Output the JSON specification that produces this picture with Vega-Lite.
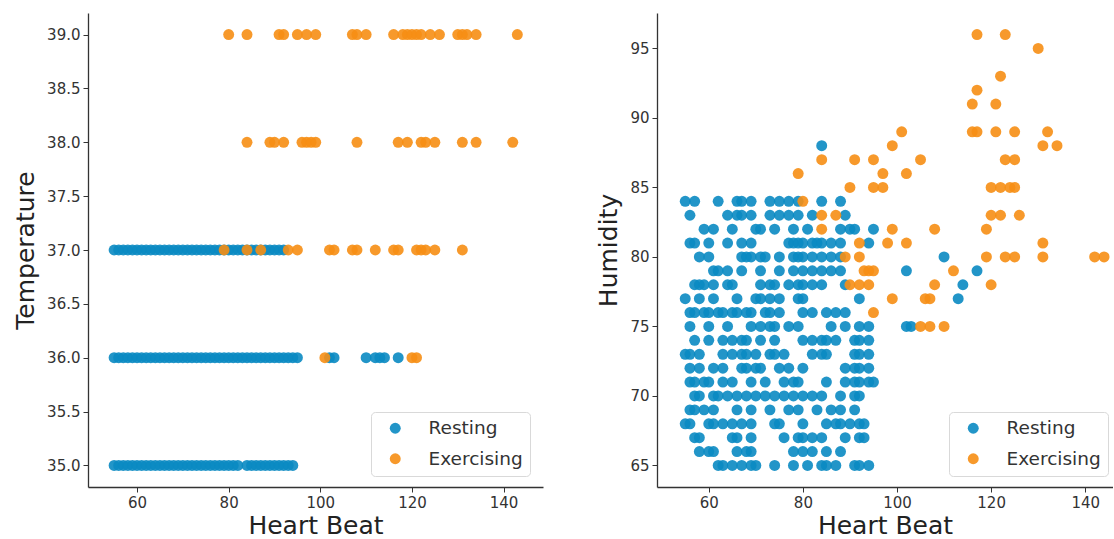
{
"$schema": "https://vega.github.io/schema/vega-lite/v6.json",
"padding": {"left": 13, "top": 13, "right": 0, "bottom": 0},
"background": "white",
"spacing": 53,
"config": {
 "view": {"stroke": null},
 "font": "DejaVu Sans",
 "axis": {"grid": false, "domainColor": "#333", "domainWidth": 1.3, "tickColor": "#333", "tickSize": 5, "tickWidth": 1, "labelFontSize": 15, "labelColor": "#333", "labelFont": "DejaVu Sans", "titleFont": "DejaVu Sans", "titleFontSize": 25, "titleFontWeight": "normal", "titleColor": "#222", "labelPadding": 3},
 "legend": {"labelFontSize": 18.5, "labelColor": "#333", "labelFont": "DejaVu Sans", "symbolSize": 120, "symbolOpacity": 0.9, "symbolType": "circle", "symbolStrokeWidth": 0, "padding": 7, "rowPadding": 11.5, "symbolOffset": 8, "labelOffset": 24, "strokeColor": "#d9d9d9", "fillColor": "white", "cornerRadius": 4}
},
"datasets": {
"temp": [
{"h":55,"t":35,"s":"Resting"},{"h":56,"t":35,"s":"Resting"},{"h":57,"t":35,"s":"Resting"},{"h":58,"t":35,"s":"Resting"},{"h":59,"t":35,"s":"Resting"},{"h":60,"t":35,"s":"Resting"},{"h":61,"t":35,"s":"Resting"},{"h":62,"t":35,"s":"Resting"},{"h":63,"t":35,"s":"Resting"},{"h":64,"t":35,"s":"Resting"},{"h":65,"t":35,"s":"Resting"},{"h":66,"t":35,"s":"Resting"},{"h":67,"t":35,"s":"Resting"},{"h":68,"t":35,"s":"Resting"},{"h":69,"t":35,"s":"Resting"},{"h":70,"t":35,"s":"Resting"},{"h":71,"t":35,"s":"Resting"},{"h":72,"t":35,"s":"Resting"},{"h":73,"t":35,"s":"Resting"},{"h":74,"t":35,"s":"Resting"},{"h":75,"t":35,"s":"Resting"},{"h":76,"t":35,"s":"Resting"},{"h":77,"t":35,"s":"Resting"},{"h":78,"t":35,"s":"Resting"},{"h":79,"t":35,"s":"Resting"},{"h":80,"t":35,"s":"Resting"},{"h":81,"t":35,"s":"Resting"},{"h":82,"t":35,"s":"Resting"},{"h":84,"t":35,"s":"Resting"},{"h":85,"t":35,"s":"Resting"},{"h":86,"t":35,"s":"Resting"},{"h":87,"t":35,"s":"Resting"},{"h":88,"t":35,"s":"Resting"},{"h":89,"t":35,"s":"Resting"},{"h":90,"t":35,"s":"Resting"},{"h":91,"t":35,"s":"Resting"},{"h":92,"t":35,"s":"Resting"},{"h":93,"t":35,"s":"Resting"},{"h":94,"t":35,"s":"Resting"},
{"h":55,"t":36,"s":"Resting"},{"h":56,"t":36,"s":"Resting"},{"h":57,"t":36,"s":"Resting"},{"h":58,"t":36,"s":"Resting"},{"h":59,"t":36,"s":"Resting"},{"h":60,"t":36,"s":"Resting"},{"h":61,"t":36,"s":"Resting"},{"h":62,"t":36,"s":"Resting"},{"h":63,"t":36,"s":"Resting"},{"h":64,"t":36,"s":"Resting"},{"h":65,"t":36,"s":"Resting"},{"h":66,"t":36,"s":"Resting"},{"h":67,"t":36,"s":"Resting"},{"h":68,"t":36,"s":"Resting"},{"h":69,"t":36,"s":"Resting"},{"h":70,"t":36,"s":"Resting"},{"h":71,"t":36,"s":"Resting"},{"h":72,"t":36,"s":"Resting"},{"h":73,"t":36,"s":"Resting"},{"h":74,"t":36,"s":"Resting"},{"h":75,"t":36,"s":"Resting"},{"h":76,"t":36,"s":"Resting"},{"h":77,"t":36,"s":"Resting"},{"h":78,"t":36,"s":"Resting"},{"h":79,"t":36,"s":"Resting"},{"h":80,"t":36,"s":"Resting"},{"h":81,"t":36,"s":"Resting"},{"h":82,"t":36,"s":"Resting"},{"h":83,"t":36,"s":"Resting"},{"h":84,"t":36,"s":"Resting"},{"h":85,"t":36,"s":"Resting"},{"h":86,"t":36,"s":"Resting"},{"h":87,"t":36,"s":"Resting"},{"h":88,"t":36,"s":"Resting"},{"h":89,"t":36,"s":"Resting"},{"h":90,"t":36,"s":"Resting"},{"h":91,"t":36,"s":"Resting"},{"h":92,"t":36,"s":"Resting"},{"h":93,"t":36,"s":"Resting"},{"h":94,"t":36,"s":"Resting"},{"h":95,"t":36,"s":"Resting"},{"h":102,"t":36,"s":"Resting"},{"h":103,"t":36,"s":"Resting"},{"h":110,"t":36,"s":"Resting"},{"h":112,"t":36,"s":"Resting"},{"h":113,"t":36,"s":"Resting"},{"h":114,"t":36,"s":"Resting"},{"h":117,"t":36,"s":"Resting"},
{"h":55,"t":37,"s":"Resting"},{"h":56,"t":37,"s":"Resting"},{"h":57,"t":37,"s":"Resting"},{"h":58,"t":37,"s":"Resting"},{"h":59,"t":37,"s":"Resting"},{"h":60,"t":37,"s":"Resting"},{"h":61,"t":37,"s":"Resting"},{"h":62,"t":37,"s":"Resting"},{"h":63,"t":37,"s":"Resting"},{"h":64,"t":37,"s":"Resting"},{"h":65,"t":37,"s":"Resting"},{"h":66,"t":37,"s":"Resting"},{"h":67,"t":37,"s":"Resting"},{"h":68,"t":37,"s":"Resting"},{"h":69,"t":37,"s":"Resting"},{"h":70,"t":37,"s":"Resting"},{"h":71,"t":37,"s":"Resting"},{"h":72,"t":37,"s":"Resting"},{"h":73,"t":37,"s":"Resting"},{"h":74,"t":37,"s":"Resting"},{"h":75,"t":37,"s":"Resting"},{"h":76,"t":37,"s":"Resting"},{"h":77,"t":37,"s":"Resting"},{"h":78,"t":37,"s":"Resting"},{"h":79,"t":37,"s":"Resting"},{"h":80,"t":37,"s":"Resting"},{"h":81,"t":37,"s":"Resting"},{"h":82,"t":37,"s":"Resting"},{"h":83,"t":37,"s":"Resting"},{"h":84,"t":37,"s":"Resting"},{"h":85,"t":37,"s":"Resting"},{"h":86,"t":37,"s":"Resting"},{"h":87,"t":37,"s":"Resting"},{"h":88,"t":37,"s":"Resting"},{"h":89,"t":37,"s":"Resting"},{"h":90,"t":37,"s":"Resting"},{"h":91,"t":37,"s":"Resting"},{"h":92,"t":37,"s":"Resting"},
{"h":101,"t":36,"s":"Exercising"},{"h":120,"t":36,"s":"Exercising"},{"h":121,"t":36,"s":"Exercising"},
{"h":79,"t":37,"s":"Exercising"},{"h":84,"t":37,"s":"Exercising"},{"h":87,"t":37,"s":"Exercising"},{"h":93,"t":37,"s":"Exercising"},{"h":95,"t":37,"s":"Exercising"},{"h":102,"t":37,"s":"Exercising"},{"h":103,"t":37,"s":"Exercising"},{"h":107,"t":37,"s":"Exercising"},{"h":108,"t":37,"s":"Exercising"},{"h":112,"t":37,"s":"Exercising"},{"h":116,"t":37,"s":"Exercising"},{"h":117,"t":37,"s":"Exercising"},{"h":121,"t":37,"s":"Exercising"},{"h":122,"t":37,"s":"Exercising"},{"h":123,"t":37,"s":"Exercising"},{"h":125,"t":37,"s":"Exercising"},{"h":131,"t":37,"s":"Exercising"},
{"h":84,"t":38,"s":"Exercising"},{"h":89,"t":38,"s":"Exercising"},{"h":90,"t":38,"s":"Exercising"},{"h":92,"t":38,"s":"Exercising"},{"h":96,"t":38,"s":"Exercising"},{"h":97,"t":38,"s":"Exercising"},{"h":98,"t":38,"s":"Exercising"},{"h":99,"t":38,"s":"Exercising"},{"h":108,"t":38,"s":"Exercising"},{"h":117,"t":38,"s":"Exercising"},{"h":119,"t":38,"s":"Exercising"},{"h":122,"t":38,"s":"Exercising"},{"h":123,"t":38,"s":"Exercising"},{"h":125,"t":38,"s":"Exercising"},{"h":131,"t":38,"s":"Exercising"},{"h":134,"t":38,"s":"Exercising"},{"h":142,"t":38,"s":"Exercising"},
{"h":80,"t":39,"s":"Exercising"},{"h":84,"t":39,"s":"Exercising"},{"h":91,"t":39,"s":"Exercising"},{"h":92,"t":39,"s":"Exercising"},{"h":95,"t":39,"s":"Exercising"},{"h":97,"t":39,"s":"Exercising"},{"h":99,"t":39,"s":"Exercising"},{"h":107,"t":39,"s":"Exercising"},{"h":108,"t":39,"s":"Exercising"},{"h":110,"t":39,"s":"Exercising"},{"h":116,"t":39,"s":"Exercising"},{"h":118,"t":39,"s":"Exercising"},{"h":119,"t":39,"s":"Exercising"},{"h":120,"t":39,"s":"Exercising"},{"h":121,"t":39,"s":"Exercising"},{"h":122,"t":39,"s":"Exercising"},{"h":124,"t":39,"s":"Exercising"},{"h":126,"t":39,"s":"Exercising"},{"h":130,"t":39,"s":"Exercising"},{"h":131,"t":39,"s":"Exercising"},{"h":132,"t":39,"s":"Exercising"},{"h":134,"t":39,"s":"Exercising"},{"h":143,"t":39,"s":"Exercising"}
],
"hum": [
{"h":55,"u":84,"s":"Resting"},{"h":57,"u":84,"s":"Resting"},{"h":62,"u":84,"s":"Resting"},{"h":66,"u":84,"s":"Resting"},{"h":67,"u":84,"s":"Resting"},{"h":69,"u":84,"s":"Resting"},{"h":73,"u":84,"s":"Resting"},{"h":75,"u":84,"s":"Resting"},{"h":77,"u":84,"s":"Resting"},{"h":79,"u":84,"s":"Resting"},{"h":84,"u":84,"s":"Resting"},{"h":88,"u":84,"s":"Resting"},
{"h":56,"u":83,"s":"Resting"},{"h":64,"u":83,"s":"Resting"},{"h":66,"u":83,"s":"Resting"},{"h":67,"u":83,"s":"Resting"},{"h":69,"u":83,"s":"Resting"},{"h":73,"u":83,"s":"Resting"},{"h":75,"u":83,"s":"Resting"},{"h":77,"u":83,"s":"Resting"},{"h":79,"u":83,"s":"Resting"},{"h":82,"u":83,"s":"Resting"},{"h":89,"u":83,"s":"Resting"},
{"h":59,"u":82,"s":"Resting"},{"h":61,"u":82,"s":"Resting"},{"h":65,"u":82,"s":"Resting"},{"h":70,"u":82,"s":"Resting"},{"h":71,"u":82,"s":"Resting"},{"h":74,"u":82,"s":"Resting"},{"h":78,"u":82,"s":"Resting"},{"h":81,"u":82,"s":"Resting"},{"h":88,"u":82,"s":"Resting"},{"h":90,"u":82,"s":"Resting"},{"h":91,"u":82,"s":"Resting"},{"h":95,"u":82,"s":"Resting"},
{"h":56,"u":81,"s":"Resting"},{"h":57,"u":81,"s":"Resting"},{"h":60,"u":81,"s":"Resting"},{"h":64,"u":81,"s":"Resting"},{"h":67,"u":81,"s":"Resting"},{"h":69,"u":81,"s":"Resting"},{"h":77,"u":81,"s":"Resting"},{"h":78,"u":81,"s":"Resting"},{"h":79,"u":81,"s":"Resting"},{"h":80,"u":81,"s":"Resting"},{"h":82,"u":81,"s":"Resting"},{"h":83,"u":81,"s":"Resting"},{"h":84,"u":81,"s":"Resting"},{"h":86,"u":81,"s":"Resting"},{"h":88,"u":81,"s":"Resting"},{"h":94,"u":81,"s":"Resting"},
{"h":58,"u":80,"s":"Resting"},{"h":60,"u":80,"s":"Resting"},{"h":67,"u":80,"s":"Resting"},{"h":68,"u":80,"s":"Resting"},{"h":69,"u":80,"s":"Resting"},{"h":71,"u":80,"s":"Resting"},{"h":72,"u":80,"s":"Resting"},{"h":75,"u":80,"s":"Resting"},{"h":78,"u":80,"s":"Resting"},{"h":79,"u":80,"s":"Resting"},{"h":80,"u":80,"s":"Resting"},{"h":82,"u":80,"s":"Resting"},{"h":84,"u":80,"s":"Resting"},{"h":86,"u":80,"s":"Resting"},{"h":88,"u":80,"s":"Resting"},{"h":110,"u":80,"s":"Resting"},
{"h":61,"u":79,"s":"Resting"},{"h":62,"u":79,"s":"Resting"},{"h":64,"u":79,"s":"Resting"},{"h":67,"u":79,"s":"Resting"},{"h":71,"u":79,"s":"Resting"},{"h":75,"u":79,"s":"Resting"},{"h":78,"u":79,"s":"Resting"},{"h":80,"u":79,"s":"Resting"},{"h":82,"u":79,"s":"Resting"},{"h":84,"u":79,"s":"Resting"},{"h":86,"u":79,"s":"Resting"},{"h":88,"u":79,"s":"Resting"},{"h":102,"u":79,"s":"Resting"},{"h":117,"u":79,"s":"Resting"},
{"h":57,"u":78,"s":"Resting"},{"h":58,"u":78,"s":"Resting"},{"h":59,"u":78,"s":"Resting"},{"h":61,"u":78,"s":"Resting"},{"h":64,"u":78,"s":"Resting"},{"h":65,"u":78,"s":"Resting"},{"h":71,"u":78,"s":"Resting"},{"h":73,"u":78,"s":"Resting"},{"h":74,"u":78,"s":"Resting"},{"h":77,"u":78,"s":"Resting"},{"h":79,"u":78,"s":"Resting"},{"h":80,"u":78,"s":"Resting"},{"h":82,"u":78,"s":"Resting"},{"h":84,"u":78,"s":"Resting"},{"h":89,"u":78,"s":"Resting"},{"h":114,"u":78,"s":"Resting"},
{"h":55,"u":77,"s":"Resting"},{"h":58,"u":77,"s":"Resting"},{"h":61,"u":77,"s":"Resting"},{"h":66,"u":77,"s":"Resting"},{"h":70,"u":77,"s":"Resting"},{"h":71,"u":77,"s":"Resting"},{"h":73,"u":77,"s":"Resting"},{"h":75,"u":77,"s":"Resting"},{"h":79,"u":77,"s":"Resting"},{"h":80,"u":77,"s":"Resting"},{"h":92,"u":77,"s":"Resting"},{"h":113,"u":77,"s":"Resting"},
{"h":56,"u":76,"s":"Resting"},{"h":57,"u":76,"s":"Resting"},{"h":59,"u":76,"s":"Resting"},{"h":60,"u":76,"s":"Resting"},{"h":62,"u":76,"s":"Resting"},{"h":63,"u":76,"s":"Resting"},{"h":65,"u":76,"s":"Resting"},{"h":66,"u":76,"s":"Resting"},{"h":68,"u":76,"s":"Resting"},{"h":69,"u":76,"s":"Resting"},{"h":72,"u":76,"s":"Resting"},{"h":73,"u":76,"s":"Resting"},{"h":75,"u":76,"s":"Resting"},{"h":80,"u":76,"s":"Resting"},{"h":82,"u":76,"s":"Resting"},{"h":85,"u":76,"s":"Resting"},{"h":87,"u":76,"s":"Resting"},{"h":89,"u":76,"s":"Resting"},
{"h":56,"u":75,"s":"Resting"},{"h":60,"u":75,"s":"Resting"},{"h":64,"u":75,"s":"Resting"},{"h":69,"u":75,"s":"Resting"},{"h":71,"u":75,"s":"Resting"},{"h":73,"u":75,"s":"Resting"},{"h":74,"u":75,"s":"Resting"},{"h":77,"u":75,"s":"Resting"},{"h":79,"u":75,"s":"Resting"},{"h":86,"u":75,"s":"Resting"},{"h":89,"u":75,"s":"Resting"},{"h":92,"u":75,"s":"Resting"},{"h":94,"u":75,"s":"Resting"},{"h":102,"u":75,"s":"Resting"},{"h":103,"u":75,"s":"Resting"},
{"h":57,"u":74,"s":"Resting"},{"h":60,"u":74,"s":"Resting"},{"h":63,"u":74,"s":"Resting"},{"h":65,"u":74,"s":"Resting"},{"h":67,"u":74,"s":"Resting"},{"h":68,"u":74,"s":"Resting"},{"h":71,"u":74,"s":"Resting"},{"h":74,"u":74,"s":"Resting"},{"h":80,"u":74,"s":"Resting"},{"h":82,"u":74,"s":"Resting"},{"h":84,"u":74,"s":"Resting"},{"h":85,"u":74,"s":"Resting"},{"h":87,"u":74,"s":"Resting"},{"h":91,"u":74,"s":"Resting"},{"h":92,"u":74,"s":"Resting"},{"h":94,"u":74,"s":"Resting"},
{"h":55,"u":73,"s":"Resting"},{"h":56,"u":73,"s":"Resting"},{"h":58,"u":73,"s":"Resting"},{"h":63,"u":73,"s":"Resting"},{"h":65,"u":73,"s":"Resting"},{"h":67,"u":73,"s":"Resting"},{"h":68,"u":73,"s":"Resting"},{"h":70,"u":73,"s":"Resting"},{"h":73,"u":73,"s":"Resting"},{"h":74,"u":73,"s":"Resting"},{"h":76,"u":73,"s":"Resting"},{"h":82,"u":73,"s":"Resting"},{"h":84,"u":73,"s":"Resting"},{"h":85,"u":73,"s":"Resting"},{"h":91,"u":73,"s":"Resting"},{"h":92,"u":73,"s":"Resting"},{"h":94,"u":73,"s":"Resting"},
{"h":56,"u":72,"s":"Resting"},{"h":58,"u":72,"s":"Resting"},{"h":61,"u":72,"s":"Resting"},{"h":63,"u":72,"s":"Resting"},{"h":67,"u":72,"s":"Resting"},{"h":68,"u":72,"s":"Resting"},{"h":70,"u":72,"s":"Resting"},{"h":71,"u":72,"s":"Resting"},{"h":75,"u":72,"s":"Resting"},{"h":77,"u":72,"s":"Resting"},{"h":80,"u":72,"s":"Resting"},{"h":89,"u":72,"s":"Resting"},{"h":91,"u":72,"s":"Resting"},{"h":92,"u":72,"s":"Resting"},{"h":94,"u":72,"s":"Resting"},
{"h":56,"u":71,"s":"Resting"},{"h":57,"u":71,"s":"Resting"},{"h":59,"u":71,"s":"Resting"},{"h":60,"u":71,"s":"Resting"},{"h":63,"u":71,"s":"Resting"},{"h":65,"u":71,"s":"Resting"},{"h":69,"u":71,"s":"Resting"},{"h":72,"u":71,"s":"Resting"},{"h":76,"u":71,"s":"Resting"},{"h":78,"u":71,"s":"Resting"},{"h":79,"u":71,"s":"Resting"},{"h":85,"u":71,"s":"Resting"},{"h":89,"u":71,"s":"Resting"},{"h":91,"u":71,"s":"Resting"},{"h":92,"u":71,"s":"Resting"},{"h":94,"u":71,"s":"Resting"},{"h":95,"u":71,"s":"Resting"},
{"h":57,"u":70,"s":"Resting"},{"h":58,"u":70,"s":"Resting"},{"h":61,"u":70,"s":"Resting"},{"h":62,"u":70,"s":"Resting"},{"h":64,"u":70,"s":"Resting"},{"h":66,"u":70,"s":"Resting"},{"h":68,"u":70,"s":"Resting"},{"h":70,"u":70,"s":"Resting"},{"h":72,"u":70,"s":"Resting"},{"h":74,"u":70,"s":"Resting"},{"h":76,"u":70,"s":"Resting"},{"h":78,"u":70,"s":"Resting"},{"h":80,"u":70,"s":"Resting"},{"h":82,"u":70,"s":"Resting"},{"h":84,"u":70,"s":"Resting"},{"h":88,"u":70,"s":"Resting"},{"h":91,"u":70,"s":"Resting"},{"h":92,"u":70,"s":"Resting"},
{"h":56,"u":69,"s":"Resting"},{"h":57,"u":69,"s":"Resting"},{"h":59,"u":69,"s":"Resting"},{"h":61,"u":69,"s":"Resting"},{"h":66,"u":69,"s":"Resting"},{"h":69,"u":69,"s":"Resting"},{"h":73,"u":69,"s":"Resting"},{"h":77,"u":69,"s":"Resting"},{"h":79,"u":69,"s":"Resting"},{"h":83,"u":69,"s":"Resting"},{"h":86,"u":69,"s":"Resting"},{"h":88,"u":69,"s":"Resting"},{"h":91,"u":69,"s":"Resting"},
{"h":55,"u":68,"s":"Resting"},{"h":56,"u":68,"s":"Resting"},{"h":60,"u":68,"s":"Resting"},{"h":61,"u":68,"s":"Resting"},{"h":63,"u":68,"s":"Resting"},{"h":65,"u":68,"s":"Resting"},{"h":67,"u":68,"s":"Resting"},{"h":69,"u":68,"s":"Resting"},{"h":74,"u":68,"s":"Resting"},{"h":75,"u":68,"s":"Resting"},{"h":80,"u":68,"s":"Resting"},{"h":85,"u":68,"s":"Resting"},{"h":87,"u":68,"s":"Resting"},{"h":88,"u":68,"s":"Resting"},{"h":90,"u":68,"s":"Resting"},{"h":92,"u":68,"s":"Resting"},{"h":93,"u":68,"s":"Resting"},
{"h":57,"u":67,"s":"Resting"},{"h":58,"u":67,"s":"Resting"},{"h":65,"u":67,"s":"Resting"},{"h":66,"u":67,"s":"Resting"},{"h":69,"u":67,"s":"Resting"},{"h":76,"u":67,"s":"Resting"},{"h":79,"u":67,"s":"Resting"},{"h":80,"u":67,"s":"Resting"},{"h":82,"u":67,"s":"Resting"},{"h":84,"u":67,"s":"Resting"},{"h":89,"u":67,"s":"Resting"},{"h":92,"u":67,"s":"Resting"},{"h":93,"u":67,"s":"Resting"},
{"h":58,"u":66,"s":"Resting"},{"h":60,"u":66,"s":"Resting"},{"h":61,"u":66,"s":"Resting"},{"h":66,"u":66,"s":"Resting"},{"h":68,"u":66,"s":"Resting"},{"h":69,"u":66,"s":"Resting"},{"h":78,"u":66,"s":"Resting"},{"h":80,"u":66,"s":"Resting"},{"h":82,"u":66,"s":"Resting"},{"h":85,"u":66,"s":"Resting"},{"h":88,"u":66,"s":"Resting"},
{"h":62,"u":65,"s":"Resting"},{"h":63,"u":65,"s":"Resting"},{"h":65,"u":65,"s":"Resting"},{"h":67,"u":65,"s":"Resting"},{"h":69,"u":65,"s":"Resting"},{"h":70,"u":65,"s":"Resting"},{"h":74,"u":65,"s":"Resting"},{"h":78,"u":65,"s":"Resting"},{"h":81,"u":65,"s":"Resting"},{"h":84,"u":65,"s":"Resting"},{"h":85,"u":65,"s":"Resting"},{"h":87,"u":65,"s":"Resting"},{"h":91,"u":65,"s":"Resting"},{"h":92,"u":65,"s":"Resting"},{"h":94,"u":65,"s":"Resting"},
{"h":84,"u":88,"s":"Resting"},
{"h":117,"u":96,"s":"Exercising"},{"h":123,"u":96,"s":"Exercising"},{"h":130,"u":95,"s":"Exercising"},{"h":122,"u":93,"s":"Exercising"},{"h":117,"u":92,"s":"Exercising"},{"h":116,"u":91,"s":"Exercising"},{"h":121,"u":91,"s":"Exercising"},
{"h":101,"u":89,"s":"Exercising"},{"h":116,"u":89,"s":"Exercising"},{"h":117,"u":89,"s":"Exercising"},{"h":121,"u":89,"s":"Exercising"},{"h":125,"u":89,"s":"Exercising"},{"h":132,"u":89,"s":"Exercising"},
{"h":99,"u":88,"s":"Exercising"},{"h":131,"u":88,"s":"Exercising"},{"h":134,"u":88,"s":"Exercising"},
{"h":84,"u":87,"s":"Exercising"},{"h":91,"u":87,"s":"Exercising"},{"h":95,"u":87,"s":"Exercising"},{"h":105,"u":87,"s":"Exercising"},{"h":123,"u":87,"s":"Exercising"},{"h":125,"u":87,"s":"Exercising"},
{"h":79,"u":86,"s":"Exercising"},{"h":97,"u":86,"s":"Exercising"},{"h":102,"u":86,"s":"Exercising"},
{"h":90,"u":85,"s":"Exercising"},{"h":95,"u":85,"s":"Exercising"},{"h":97,"u":85,"s":"Exercising"},{"h":120,"u":85,"s":"Exercising"},{"h":122,"u":85,"s":"Exercising"},{"h":124,"u":85,"s":"Exercising"},{"h":125,"u":85,"s":"Exercising"},
{"h":80,"u":84,"s":"Exercising"},
{"h":84,"u":83,"s":"Exercising"},{"h":87,"u":83,"s":"Exercising"},{"h":120,"u":83,"s":"Exercising"},{"h":122,"u":83,"s":"Exercising"},{"h":126,"u":83,"s":"Exercising"},
{"h":84,"u":82,"s":"Exercising"},{"h":99,"u":82,"s":"Exercising"},{"h":108,"u":82,"s":"Exercising"},{"h":119,"u":82,"s":"Exercising"},
{"h":92,"u":81,"s":"Exercising"},{"h":98,"u":81,"s":"Exercising"},{"h":102,"u":81,"s":"Exercising"},{"h":131,"u":81,"s":"Exercising"},
{"h":89,"u":80,"s":"Exercising"},{"h":92,"u":80,"s":"Exercising"},{"h":119,"u":80,"s":"Exercising"},{"h":123,"u":80,"s":"Exercising"},{"h":125,"u":80,"s":"Exercising"},{"h":131,"u":80,"s":"Exercising"},{"h":142,"u":80,"s":"Exercising"},{"h":144,"u":80,"s":"Exercising"},
{"h":93,"u":79,"s":"Exercising"},{"h":94,"u":79,"s":"Exercising"},{"h":95,"u":79,"s":"Exercising"},{"h":112,"u":79,"s":"Exercising"},
{"h":90,"u":78,"s":"Exercising"},{"h":92,"u":78,"s":"Exercising"},{"h":94,"u":78,"s":"Exercising"},{"h":108,"u":78,"s":"Exercising"},{"h":120,"u":78,"s":"Exercising"},
{"h":99,"u":77,"s":"Exercising"},{"h":106,"u":77,"s":"Exercising"},{"h":107,"u":77,"s":"Exercising"},
{"h":95,"u":76,"s":"Exercising"},
{"h":105,"u":75,"s":"Exercising"},{"h":107,"u":75,"s":"Exercising"},{"h":110,"u":75,"s":"Exercising"}
]
},
"hconcat": [
{
 "width": 455, "height": 474,
 "data": {"name": "temp"},
 "mark": {"type": "circle", "size": 120, "opacity": 0.9},
 "encoding": {
  "x": {"field": "h", "type": "quantitative", "title": "Heart Beat", "scale": {"domain": [49.3, 148.6], "nice": false, "zero": false}, "axis": {"values": [60, 80, 100, 120, 140], "titlePadding": 3}},
  "y": {"field": "t", "type": "quantitative", "title": "Temperature", "scale": {"domain": [34.8, 39.2], "nice": false, "zero": false}, "axis": {"values": [35, 35.5, 36, 36.5, 37, 37.5, 38, 38.5, 39], "format": ".1f", "titlePadding": 8}},
  "color": {"field": "s", "type": "nominal", "scale": {"domain": ["Resting", "Exercising"], "range": ["#0a89c2", "#f68e14"]}, "legend": {"title": null, "orient": "none", "legendX": 283, "legendY": 399}}
 }
},
{
 "width": 456, "height": 474,
 "data": {"name": "hum"},
 "mark": {"type": "circle", "size": 120, "opacity": 0.9, "clip": true},
 "encoding": {
  "x": {"field": "h", "type": "quantitative", "title": "Heart Beat", "scale": {"domain": [49, 145.9], "nice": false, "zero": false}, "axis": {"values": [60, 80, 100, 120, 140], "titlePadding": 3}},
  "y": {"field": "u", "type": "quantitative", "title": "Humidity", "scale": {"domain": [63.45, 97.55], "nice": false, "zero": false}, "axis": {"values": [65, 70, 75, 80, 85, 90, 95], "titlePadding": 8}},
  "color": {"field": "s", "type": "nominal", "scale": {"domain": ["Resting", "Exercising"], "range": ["#0a89c2", "#f68e14"]}, "legend": {"title": null, "orient": "none", "legendX": 292, "legendY": 399}}
 }
}
],
"resolve": {"legend": {"color": "independent"}}
}
